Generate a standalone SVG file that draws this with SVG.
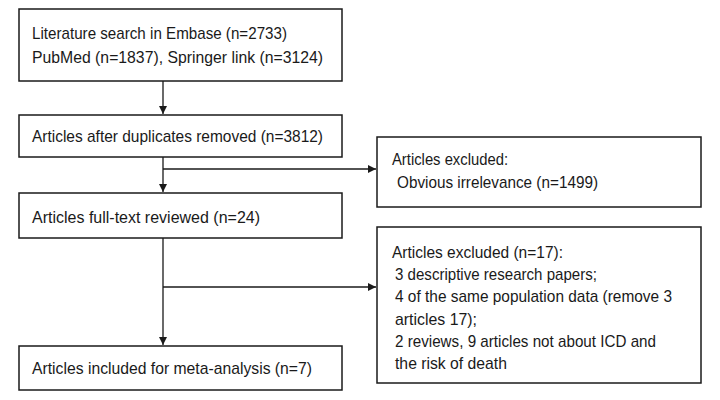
<svg xmlns="http://www.w3.org/2000/svg" width="720" height="400" viewBox="0 0 720 400">
<style>
.box{fill:#fff;stroke:#1a1a1a;stroke-width:1.5}
.t{font-family:"Liberation Sans",Arial,sans-serif;font-size:17px;fill:#1a1a1a}
.c{fill:none;stroke:#1a1a1a;stroke-width:1.3}
</style>
<defs>
<marker id="ah" viewBox="0 0 10 10" refX="10" refY="5" markerWidth="8" markerHeight="8" markerUnits="userSpaceOnUse" orient="auto">
<path d="M0,0 L10,5 L0,10 Z" fill="#1a1a1a"/>
</marker>
</defs>
<rect width="720" height="400" fill="#fff"/>
<g id="connectors">
<path class="c" d="M163,81 V114" marker-end="url(#ah)"/>
<path class="c" d="M163,157 V192" marker-end="url(#ah)"/>
<path class="c" d="M163,169 H376" marker-end="url(#ah)"/>
<path class="c" d="M163,238 V345" marker-end="url(#ah)"/>
<path class="c" d="M163,287 H376" marker-end="url(#ah)"/>
</g>
<g id="search">
<rect class="box" x="19" y="9" width="323" height="72"/>
<text class="t" x="32" y="39" textLength="255" lengthAdjust="spacingAndGlyphs">Literature search in Embase (n=2733)</text>
<text class="t" x="32" y="63" textLength="291" lengthAdjust="spacingAndGlyphs">PubMed (n=1837), Springer link (n=3124)</text>
</g>
<g id="dedup">
<rect class="box" x="19" y="115" width="323" height="42"/>
<text class="t" x="32" y="142" textLength="291" lengthAdjust="spacingAndGlyphs">Articles after duplicates removed (n=3812)</text>
</g>
<g id="fulltext">
<rect class="box" x="19" y="193" width="323" height="45"/>
<text class="t" x="32" y="223" textLength="228" lengthAdjust="spacingAndGlyphs">Articles full-text reviewed (n=24)</text>
</g>
<g id="included">
<rect class="box" x="19" y="346" width="323" height="44"/>
<text class="t" x="32" y="374" textLength="280" lengthAdjust="spacingAndGlyphs">Articles included for meta-analysis (n=7)</text>
</g>
<g id="excluded1">
<rect class="box" x="377" y="137" width="324" height="70"/>
<text class="t" x="392" y="165" textLength="116" lengthAdjust="spacingAndGlyphs">Articles excluded:</text>
<text class="t" x="397" y="188" textLength="201" lengthAdjust="spacingAndGlyphs">Obvious irrelevance (n=1499)</text>
</g>
<g id="excluded2">
<rect class="box" x="377" y="227" width="324" height="156"/>
<text class="t" x="392" y="258" textLength="171" lengthAdjust="spacingAndGlyphs">Articles excluded (n=17):</text>
<text class="t" x="395" y="280" textLength="202" lengthAdjust="spacingAndGlyphs">3 descriptive research papers;</text>
<text class="t" x="395" y="302" textLength="277" lengthAdjust="spacingAndGlyphs">4 of the same population data (remove 3</text>
<text class="t" x="395" y="325" textLength="82" lengthAdjust="spacingAndGlyphs">articles 17);</text>
<text class="t" x="395" y="347" textLength="261" lengthAdjust="spacingAndGlyphs">2 reviews, 9 articles not about ICD and</text>
<text class="t" x="395" y="369" textLength="112" lengthAdjust="spacingAndGlyphs">the risk of death</text>
</g>
</svg>
